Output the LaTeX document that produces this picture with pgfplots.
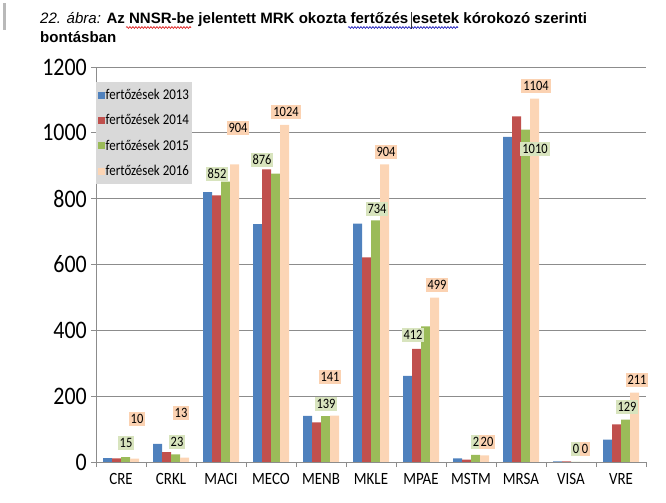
\documentclass[border=0pt]{standalone}
\usepackage{fontspec}
\setmainfont{Liberation Sans}
\newfontfamily\calfont{Carlito}
\usepackage{graphicx}
\usepackage{pgfplots}
\pgfplotsset{compat=1.18}
\usetikzlibrary{decorations.pathmorphing}
\definecolor{c13}{HTML}{4F81BD}
\definecolor{c14}{HTML}{C0504D}
\definecolor{c15}{HTML}{9BBB59}
\definecolor{c16}{HTML}{FCD5B5}
\definecolor{lg}{HTML}{D8E4BE}
\definecolor{lp}{HTML}{FBD2B2}
\definecolor{gridc}{HTML}{8C8C8C}
\definecolor{legbg}{HTML}{D9D9D9}
\newcommand\st[1]{\scalebox{1}[1.15]{#1}}
\newcommand\lab[4]{\node[fill=#1, inner xsep=2bp, inner ysep=2.5bp, font=\calfont\fontsize{12.5}{12.5}\selectfont] at (axis cs:#2,#3) {\st{#4}};}
\begin{document}
\begin{tikzpicture}
\useasboundingbox (0bp,0bp) rectangle (666bp,503bp);
\fill[gray!55] (3bp,473bp) rectangle (5.5bp,500bp);
\node[anchor=base west, inner sep=0, font=\fontsize{15.1}{18}\selectfont] at (40bp,479bp) {\textit{22. ábra:} \textbf{Az NNSR-be jelentett MRK okozta fertőzés esetek kórokozó szerinti}};
\node[anchor=base west, inner sep=0, font=\fontsize{15.1}{18}\selectfont\bfseries] at (40bp,460bp) {bontásban};
\draw[red!85!black, line width=0.6bp, decorate, decoration={snake, segment length=3bp, amplitude=0.9bp}] (126bp,475.5bp) -- (191bp,475.5bp);
\draw[blue!70!black, line width=0.6bp, decorate, decoration={snake, segment length=3bp, amplitude=0.9bp}] (348bp,475.5bp) -- (458bp,475.5bp);
\draw[black!80, line width=0.6bp] (411.5bp,474bp) -- (411.5bp,491bp);
\begin{axis}[at={(96bp,41bp)}, anchor=south west, scale only axis,
  width=550bp, height=395bp,
  xmin=-0.5, xmax=10.5, ymin=0, ymax=1200,
  ybar=0pt, bar width=9bp,
  axis x line*=bottom, axis y line*=left,
  axis line style={gridc, line width=0.8bp, -},
  ytick={0,200,...,1200},
  ymajorgrids, grid style={gridc, line width=0.8bp},
  xtick={0,...,10},
  xticklabels={\st{CRE},\st{CRKL},\st{MACI},\st{MECO},\st{MENB},\st{MKLE},\st{MPAE},\st{MSTM},\st{MRSA},\st{VISA},\st{VRE}},
  major x tick style={draw=none},
  minor xtick={-0.5,0.5,...,10.5},
  tick align=outside, major tick length=5bp, minor tick length=5bp,
  tick style={gridc, line width=0.8bp},
  /pgf/number format/1000 sep={},
  /pgf/number format/assume math mode=true,
  yticklabel={\st{\pgfmathprintnumber{\tick}}},
  yticklabel style={font=\calfont\fontsize{22}{22}\selectfont, inner sep=0pt, xshift=-4bp},
  xticklabel style={font=\calfont\fontsize{15}{15}\selectfont, inner sep=0pt, yshift=-6.5bp},
  clip=false,
  legend style={at={(0,0.962)}, anchor=north west, fill=legbg, draw=none,
    font=\calfont\fontsize{13}{13}\selectfont, row sep=11.5bp, inner xsep=2bp, inner ysep=6bp,
    nodes={inner sep=1bp}},
  legend cell align=left,
  legend image code/.code={\fill[#1] (0bp,-3.5bp) rectangle (6.5bp,3.5bp);},
]
\addplot[fill=c13, draw=none] coordinates {(0,12) (1,55) (2,820) (3,723) (4,140) (5,724) (6,262) (7,11) (8,988) (9,2) (10,68)};
\addplot[fill=c14, draw=none] coordinates {(0,11) (1,30) (2,810) (3,889) (4,120) (5,622) (6,344) (7,7) (8,1050) (9,2) (10,114)};
\addplot[fill=c15, draw=none] coordinates {(0,15) (1,23) (2,852) (3,876) (4,139) (5,734) (6,412) (7,22) (8,1010) (9,0) (10,129)};
\addplot[fill=c16, draw=none] coordinates {(0,10) (1,13) (2,904) (3,1024) (4,141) (5,904) (6,499) (7,20) (8,1104) (9,0) (10,211)};
\legend{\st{fertőzések 2013},\st{fertőzések 2014},\st{fertőzések 2015},\st{fertőzések 2016}}
\lab{lg}{0.1}{57.7}{15}
\lab{lp}{0.32}{130.6}{10}
\lab{lg}{1.12}{60.8}{23}
\lab{lp}{1.2}{148.9}{13}
\lab{lg}{1.92}{875}{852}
\lab{lp}{2.34}{1014.7}{904}
\lab{lg}{2.82}{917.5}{876}
\lab{lp}{3.3}{1063}{1024}
\lab{lg}{4.1}{176}{139}
\lab{lp}{4.18}{258}{141}
\lab{lg}{5.12}{768.6}{734}
\lab{lp}{5.3}{941.8}{904}
\lab{lg}{5.84}{385.8}{412}
\lab{lp}{6.32}{537.7}{499}
\lab{lg}{7.1}{60.8}{2}
\lab{lp}{7.32}{60.8}{20}
\lab{lg}{8.28}{950.9}{1010}
\lab{lp}{8.3}{1142}{1104}
\lab{lg}{9.1}{39.5}{0}
\lab{lp}{9.28}{39.5}{0}
\lab{lg}{10.12}{167}{129}
\lab{lp}{10.32}{249}{211}
\end{axis}
\end{tikzpicture}
\end{document}
